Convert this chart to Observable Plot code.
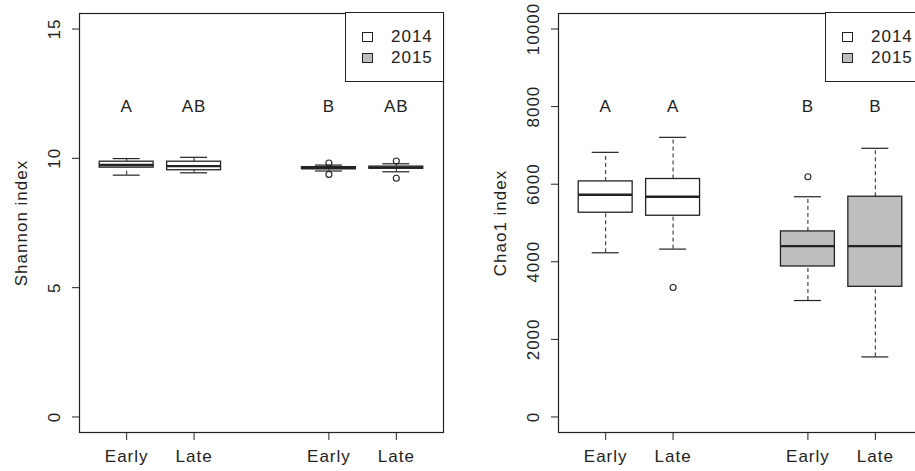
<!DOCTYPE html>
<html>
<head>
<meta charset="utf-8">
<script src="https://cdn.jsdelivr.net/npm/d3@7"></script>
<script src="https://cdn.jsdelivr.net/npm/@observablehq/plot@0.6"></script>
<style>
  html, body { margin: 0; padding: 0; background: white; }
  #wrap { position: relative; width: 915px; height: 471px; overflow: hidden; background: white; }
  .panel { position: absolute; top: 0; height: 471px; }
  .panel svg { max-width: none !important; display: block; }
  .legend { position: absolute; border: 1px solid #222; background: white; box-sizing: border-box;
            font-family: 'Liberation Sans', Arial, Helvetica, sans-serif; font-size: 17px; letter-spacing: 1px; color: #222; }
  .legend .sw { position: absolute; width: 11px; height: 10px; box-sizing: border-box; border: 1px solid #222; }
  .legend .lb { position: absolute; line-height: 17px; white-space: nowrap; }
</style>
</head>
<body>
<div id="wrap">
  <div id="left" class="panel" style="left:0px;width:457px"></div>
  <div id="right" class="panel" style="left:457px;width:480px"></div>
</div>
<script>
// ---- data ----
const groups = ["Early", "Late", "Early", "Late"];
const positions = [1, 2, 4, 5];
const years = ["2014", "2014", "2015", "2015"];
const legendYears = ["2014", "2015"];

const shannonTicks = [0, 5, 10, 15];
const shannonLow  = [9.35, 9.44, 9.51, 9.48];
const shannonQ1   = [9.64, 9.54, 9.58, 9.60];
const shannonMed  = [9.74, 9.70, 9.62, 9.64];
const shannonQ3   = [9.87, 9.87, 9.66, 9.68];
const shannonHigh = [9.99, 10.04, 9.74, 9.79];
const shannonOutPos = [4, 4, 5, 5];
const shannonOutVal = [9.82, 9.38, 9.90, 9.23];
const shannonLetters = ["A", "AB", "B", "AB"];
const shannonLetterY = 12;

const chaoTicks = [0, 2000, 4000, 6000, 8000, 10000];
const chaoLow  = [4232, 4327, 3002, 1548];
const chaoQ1   = [5265, 5187, 3879, 3355];
const chaoMed  = [5729, 5677, 4404, 4404];
const chaoQ3   = [6072, 6134, 4783, 5677];
const chaoHigh = [6821, 7208, 5677, 6925];
const chaoOutPos = [2, 4];
const chaoOutVal = [3337, 6194];
const chaoLetters = ["A", "A", "B", "B"];
const chaoLetterY = 8000;

// ---- style ----
const FONT = "'Liberation Sans', Arial, Helvetica, sans-serif";
const INK = "#222";
const FILL = {"2014": "white", "2015": "#bebebe"};

function panel(cfg) {
  const rows = positions.map((p, i) => ({
    p, year: years[i], low: cfg.low[i], q1: cfg.q1[i], med: cfg.med[i],
    q3: cfg.q3[i], high: cfg.high[i], letter: cfg.letters[i]
  }));
  const outs = cfg.outPos.map((p, i) => ({p, v: cfg.outVal[i]}));
  return Plot.plot({
    width: cfg.width, height: 471,
    marginLeft: cfg.marginLeft, marginRight: cfg.marginRight,
    marginTop: 13, marginBottom: 39,
    x: {domain: [0.3, 5.7], label: null},
    y: {domain: cfg.domain, label: null},
    style: {fontFamily: FONT, fontSize: "17px", background: "white", color: INK, letterSpacing: "1px", overflow: "visible"},
    marks: [
      Plot.ruleX(rows, {x: "p", y1: "q3", y2: "high", stroke: INK, strokeDasharray: "4,3"}),
      Plot.ruleX(rows, {x: "p", y1: "low", y2: "q1", stroke: INK, strokeDasharray: "4,3"}),
      Plot.ruleY(rows, {y: "high", x1: d => d.p - 0.2, x2: d => d.p + 0.2, stroke: INK, strokeWidth: 1.2}),
      Plot.ruleY(rows, {y: "low", x1: d => d.p - 0.2, x2: d => d.p + 0.2, stroke: INK, strokeWidth: 1.2}),
      Plot.rect(rows, {x1: d => d.p - 0.4, x2: d => d.p + 0.4, y1: "q1", y2: "q3",
                       fill: d => FILL[d.year], stroke: INK, strokeWidth: 1.3}),
      Plot.ruleY(rows, {y: "med", x1: d => d.p - 0.4, x2: d => d.p + 0.4, stroke: INK, strokeWidth: 2.4}),
      Plot.dot(outs, {x: "p", y: "v", r: 3, stroke: INK, fill: "none", strokeWidth: 1.1}),
      Plot.text(rows, {x: "p", y: () => cfg.letterY, text: "letter", fontSize: 17, fill: INK}),
      Plot.axisX({ticks: positions, tickFormat: d => groups[positions.indexOf(d)], label: null,
                  tickSize: 8, tickPadding: 9, fontSize: 17, stroke: INK, fill: INK}),
      Plot.axisY({ticks: cfg.ticks, tickSize: 7, tickFormat: () => "", label: null, stroke: INK}),
      Plot.text(cfg.ticks, {y: d => d, text: d => String(d), frameAnchor: "left", dx: -25,
                            rotate: -90, textAnchor: "middle", lineAnchor: "middle", fontSize: 17, fill: INK}),
      Plot.text([cfg.label], {text: d => d, frameAnchor: "left", dx: -58, rotate: -90,
                              textAnchor: "middle", lineAnchor: "middle", fontSize: 17, fill: INK}),
      Plot.frame({stroke: INK, strokeWidth: 1.2})
    ]
  });
}

function legend(container, left) {
  const box = document.createElement("div");
  box.className = "legend";
  box.style.left = left + "px";
  box.style.top = "12px";
  box.style.width = "99px";
  box.style.height = "70px";
  legendYears.forEach((y, i) => {
    const sw = document.createElement("div");
    sw.className = "sw";
    sw.style.left = "16px";
    sw.style.top = (19 + i * 21) + "px";
    sw.style.background = FILL[y];
    box.appendChild(sw);
    const lb = document.createElement("div");
    lb.className = "lb";
    lb.style.left = "45px";
    lb.style.top = (15 + i * 21) + "px";
    lb.textContent = y;
    box.appendChild(lb);
  });
  container.appendChild(box);
}

const left = document.getElementById("left");
left.appendChild(panel({
  width: 457, marginLeft: 79, marginRight: 14, domain: [-0.6, 15.6], ticks: shannonTicks,
  label: "Shannon index", low: shannonLow, q1: shannonQ1, med: shannonMed, q3: shannonQ3,
  high: shannonHigh, outPos: shannonOutPos, outVal: shannonOutVal,
  letters: shannonLetters, letterY: shannonLetterY
}));
legend(left, 345);

const right = document.getElementById("right");
right.appendChild(panel({
  width: 480, marginLeft: 101, marginRight: 15, domain: [-400, 10400], ticks: chaoTicks,
  label: "Chao1 index", low: chaoLow, q1: chaoQ1, med: chaoMed, q3: chaoQ3,
  high: chaoHigh, outPos: chaoOutPos, outVal: chaoOutVal,
  letters: chaoLetters, letterY: chaoLetterY
}));
legend(right, 368);
</script>
</body>
</html>
